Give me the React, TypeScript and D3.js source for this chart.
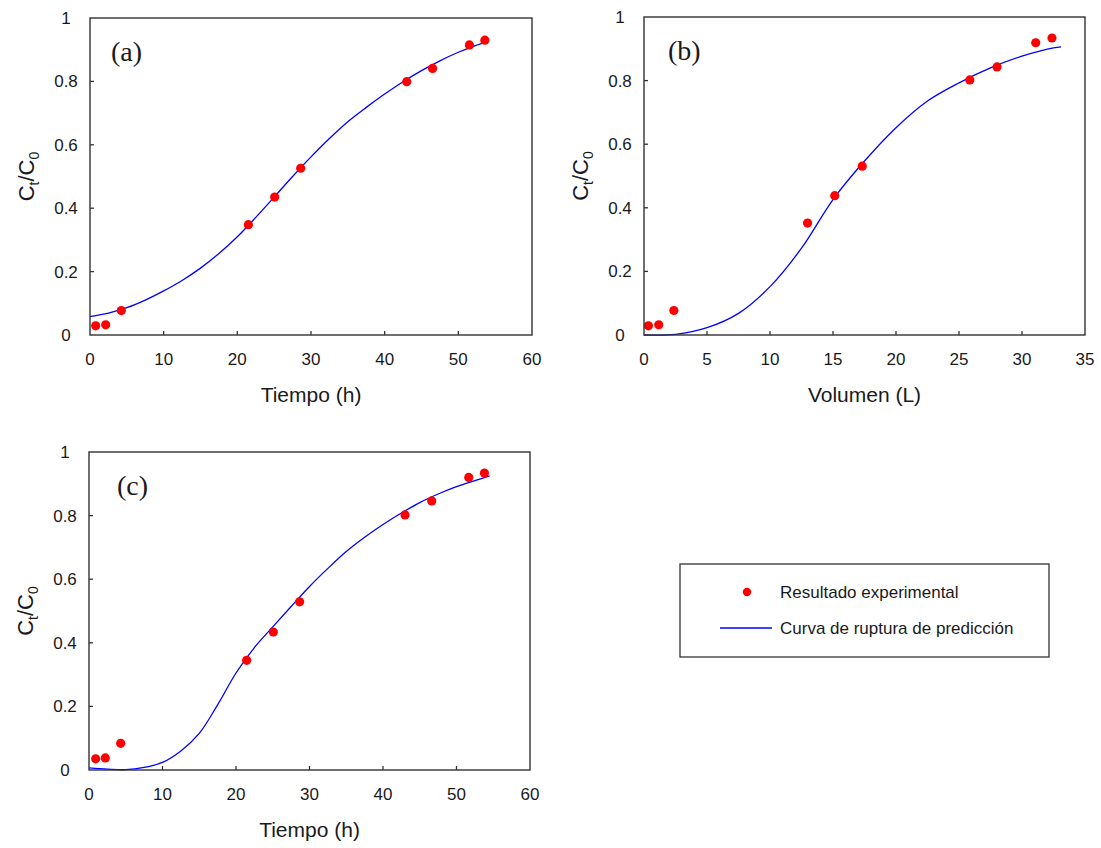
import React from "react";
import * as d3 from "d3";

// ---------- data ----------
const yTicks = [0, 0.2, 0.4, 0.6, 0.8, 1];
const yTickLabels = ["0", "0.2", "0.4", "0.6", "0.8", "1"];
const xTicksTime = [0, 10, 20, 30, 40, 50, 60];
const xTicksVol = [0, 5, 10, 15, 20, 25, 30, 35];

// panel (a)
const timeA = [0.77, 2.13, 4.25, 21.5, 25.07, 28.6, 43.0, 46.5, 51.5, 53.6];
const ctA = [0.029, 0.032, 0.077, 0.348, 0.435, 0.526, 0.799, 0.841, 0.915, 0.93];
const curveAx = [0, 2.5, 5, 7.5, 10, 12.5, 15, 17.5, 20, 22.5, 25, 27.5, 30, 32.5, 35, 37.5, 40, 42.5, 45, 47.5, 50, 52, 53.6];
const curveAy = [0.058, 0.069, 0.086, 0.11, 0.139, 0.172, 0.211, 0.257, 0.31, 0.371, 0.435, 0.5, 0.562, 0.62, 0.673, 0.718, 0.76, 0.799, 0.834, 0.865, 0.892, 0.91, 0.922];

// panel (b)
const volB = [0.35, 1.17, 2.37, 12.98, 15.14, 17.32, 25.86, 28.02, 31.09, 32.38];
const ctB = [0.029, 0.032, 0.077, 0.352, 0.438, 0.531, 0.802, 0.843, 0.919, 0.934];
const curveBx = [0, 2.5, 5, 7.5, 10, 12.5, 15, 17.5, 20, 22.5, 25, 27.5, 30, 32.5, 33.1];
const curveBy = [0, 0.002, 0.023, 0.068, 0.152, 0.273, 0.426, 0.547, 0.652, 0.736, 0.793, 0.84, 0.877, 0.903, 0.906];

// panel (c)
const timeC = [0.91, 2.22, 4.31, 21.45, 25.08, 28.66, 43.0, 46.63, 51.67, 53.8];
const ctC = [0.035, 0.038, 0.084, 0.345, 0.434, 0.529, 0.802, 0.846, 0.92, 0.934];
const curveCx = [0, 2.5, 5, 7.5, 10, 12.5, 15, 17.5, 20, 22.5, 25, 27.5, 30, 32.5, 35, 37.5, 40, 42.5, 45, 47.5, 50, 52.5, 54.5];
const curveCy = [0.007, 0.003, 0.001, 0.008, 0.024, 0.06, 0.115, 0.205, 0.305, 0.385, 0.45, 0.514, 0.577, 0.634, 0.687, 0.732, 0.772, 0.808, 0.841, 0.868, 0.891, 0.91, 0.925];

const legendLabels = ["Resultado experimental", "Curva de ruptura de predicción"];

// ---------- styles ----------
const SANS = "'Liberation Sans', Arial, Helvetica, sans-serif";
const SERIF = "'Liberation Serif', 'Times New Roman', serif";
const TXT = "#1a1a1a";
const FRAME = "#333";
const RED = "#ff0000";
const BLUE = "#0000ff";

type PanelProps = {
  left: number; right: number; top: number; bottom: number;
  xMax: number; xTicks: number[]; xTitle: string; tag: string; tagDx: number;
  px: number[]; py: number[]; cx: number[]; cy: number[];
};

function Panel(p: PanelProps) {
  const x = d3.scaleLinear().domain([0, p.xMax]).range([p.left, p.right]);
  const y = d3.scaleLinear().domain([0, 1]).range([p.bottom, p.top]);
  const pts = p.cx.map((v, i) => [v, p.cy[i]] as [number, number]);
  const line = d3
    .line<[number, number]>()
    .x((d) => x(d[0]))
    .y((d) => y(d[1]))
    .curve(d3.curveCatmullRom.alpha(0.5));
  const midY = (p.top + p.bottom) / 2;
  const midX = (p.left + p.right) / 2;
  const tx = p.left - 56;
  return (
    <g>
      <path d={line(pts) || ""} fill="none" stroke={BLUE} strokeWidth={1.3} />
      {p.px.map((v, i) => (
        <circle key={i} cx={x(v)} cy={y(p.py[i])} r={4.6} fill={RED} />
      ))}
      <rect
        x={p.left}
        y={p.top}
        width={p.right - p.left}
        height={p.bottom - p.top}
        fill="none"
        stroke={FRAME}
        strokeWidth={1.4}
      />
      {p.xTicks.map((t) => (
        <g key={"x" + t}>
          {t > 0 && t < p.xMax && (
            <line x1={x(t)} x2={x(t)} y1={p.bottom} y2={p.bottom - 4} stroke={FRAME} strokeWidth={1.3} />
          )}
          <text
            x={x(t)}
            y={p.bottom + 30}
            textAnchor="middle"
            fontFamily={SANS}
            fontSize={17}
            fill={TXT}
          >
            {String(t)}
          </text>
        </g>
      ))}
      {yTicks.map((t, i) => (
        <g key={"y" + t}>
          {t > 0 && t < 1 && (
            <line x1={p.left} x2={p.left + 4} y1={y(t)} y2={y(t)} stroke={FRAME} strokeWidth={1.3} />
          )}
          <text
            x={p.left - 24}
            y={y(t) + 6}
            textAnchor="middle"
            fontFamily={SANS}
            fontSize={17}
            fill={TXT}
          >
            {yTickLabels[i]}
          </text>
        </g>
      ))}
      <text
        x={midX}
        y={p.bottom + 67}
        textAnchor="middle"
        fontFamily={SANS}
        fontSize={21}
        fill={TXT}
      >
        {p.xTitle}
      </text>
      <text
        transform={`translate(${tx},${midY}) rotate(-90)`}
        textAnchor="middle"
        fontFamily={SANS}
        fontSize={22}
        fill={TXT}
      >
        <tspan>C</tspan>
        <tspan fontSize={14} dy={5}>t</tspan>
        <tspan dy={-5}>/C</tspan>
        <tspan fontSize={14} dy={5}>0</tspan>
      </text>
      <text
        x={p.left + p.tagDx}
        y={p.top + 43}
        fontFamily={SERIF}
        fontSize={28}
        fill={TXT}
      >
        {p.tag}
      </text>
    </g>
  );
}

export default function App() {
  const lg = { left: 680, top: 564, right: 1049, bottom: 657 };
  return (
    <div style={{ position: "absolute", left: 0, top: 0 }}>
      <svg width={1101} height={848} style={{ display: "block", background: "#fff" }}>
        <rect x={0} y={0} width={1101} height={848} fill="#fff" />
        <Panel
          left={90} right={532} top={18} bottom={335}
          xMax={60} xTicks={xTicksTime} xTitle="Tiempo (h)" tag="(a)" tagDx={21}
          px={timeA} py={ctA} cx={curveAx} cy={curveAy}
        />
        <Panel
          left={644} right={1085} top={17} bottom={335}
          xMax={35} xTicks={xTicksVol} xTitle="Volumen (L)" tag="(b)" tagDx={24}
          px={volB} py={ctB} cx={curveBx} cy={curveBy}
        />
        <Panel
          left={89} right={530} top={452} bottom={770}
          xMax={60} xTicks={xTicksTime} xTitle="Tiempo (h)" tag="(c)" tagDx={28}
          px={timeC} py={ctC} cx={curveCx} cy={curveCy}
        />
        <g>
          <rect
            x={lg.left}
            y={lg.top}
            width={lg.right - lg.left}
            height={lg.bottom - lg.top}
            fill="none"
            stroke={FRAME}
            strokeWidth={1.3}
          />
          <circle cx={747} cy={592} r={4.2} fill={RED} />
          <line x1={720} x2={772} y1={628} y2={628} stroke={BLUE} strokeWidth={1.3} />
          <text x={780} y={598} fontFamily={SANS} fontSize={17} fill={TXT}>
            {legendLabels[0]}
          </text>
          <text x={780} y={634} fontFamily={SANS} fontSize={17} fill={TXT}>
            {legendLabels[1]}
          </text>
        </g>
      </svg>
    </div>
  );
}
